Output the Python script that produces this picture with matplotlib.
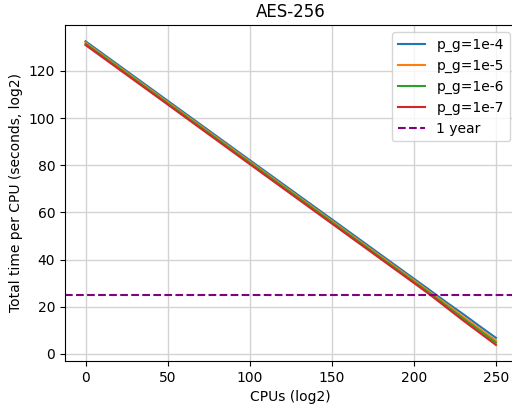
import matplotlib
matplotlib.use("Agg")
import matplotlib.pyplot as plt

# CPUs (log2) sample points
cpus = [0, 50, 100, 150, 200, 210, 220, 230, 240, 250]

# total time per CPU (seconds, log2)
t_1e4 = [132.6, 107.4, 82.2, 57.1, 31.9, 26.9, 21.8, 16.9, 11.8, 6.8]
t_1e5 = [132.0, 106.8, 81.6, 56.4, 31.2, 26.1, 21.0, 15.8, 10.7, 5.6]
t_1e6 = [131.5, 106.3, 81.1, 55.9, 30.6, 25.6, 20.3, 15.0, 9.9, 4.8]
t_1e7 = [131.0, 105.8, 80.5, 55.3, 30.1, 25.0, 19.6, 14.2, 9.0, 3.8]

one_year = 24.91  # log2(seconds in a year)

fig = plt.figure(figsize=(5.12, 4.04), dpi=100)
ax = fig.add_axes([65 / 512, 1 - 361 / 404, 451.5 / 512, 336 / 404])

ax.plot(cpus, t_1e4, label="p_g=1e-4")
ax.plot(cpus, t_1e5, label="p_g=1e-5")
ax.plot(cpus, t_1e6, label="p_g=1e-6")
ax.plot(cpus, t_1e7, label="p_g=1e-7")
ax.axhline(one_year, color="purple", linestyle="--", label="1 year")

ax.set_xlim(-12.5, 262.5)
ax.set_ylim(-3.0, 139.5)
ax.set_title("AES-256")
ax.set_xlabel("CPUs (log2)")
ax.set_ylabel("Total time per CPU (seconds, log2)")
ax.grid(True, color="#d3d3d3", linewidth=1.0)
ax.legend(loc="upper right")

fig.savefig("out.png", dpi=100)
plt.close(fig)
